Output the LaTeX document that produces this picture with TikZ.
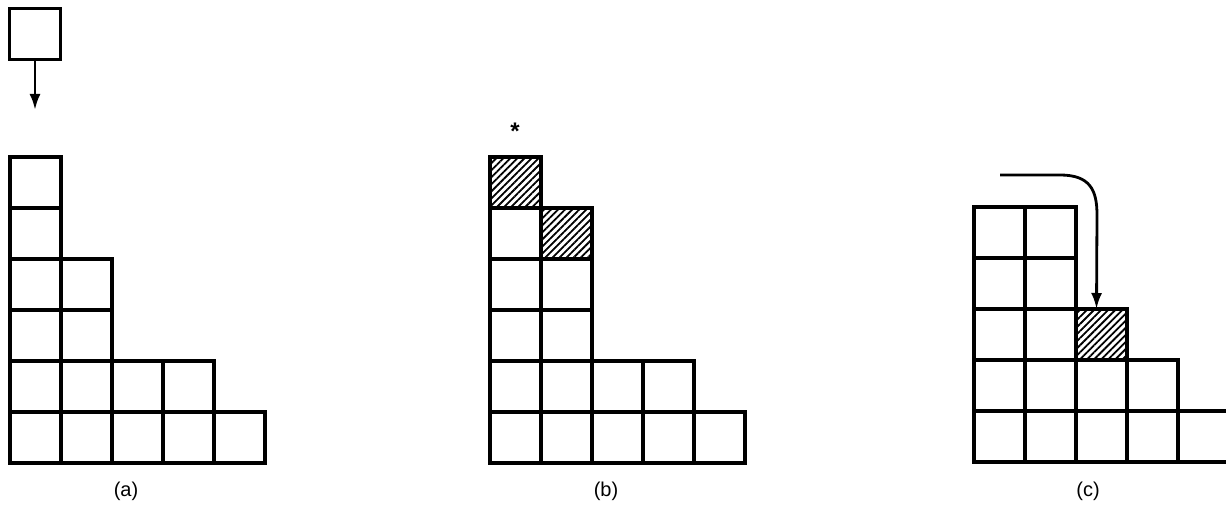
\documentclass[tikz,border=0pt]{standalone}
\usepackage{fontspec}
\setmainfont{Liberation Sans}
\usetikzlibrary{arrows.meta,patterns.meta}
\begin{document}
\begin{tikzpicture}[x=0.5pt,y=-0.5pt,
  cell/.style={draw, rectangle, line width=1.8pt, minimum size=25.5pt, inner sep=0pt, outer sep=0pt},
  hatched/.style={cell, pattern={Lines[angle=45,distance=2.5pt,line width=0.9pt]}},
  arr/.style={line width=1.4pt, -{Latex[length=8pt,width=5.5pt]}},
  lab/.style={font=\fontsize{10}{12}\selectfont, inner sep=0pt}]
\useasboundingbox (0,0) rectangle (1226,506);
\clip (0,0) rectangle (1226,506);
% (a)
\node[cell] (drop) at (35,34) {};
\coordinate (dropend) at (35,110);
\draw[arr] (drop.south) -- (dropend);
\foreach \i/\j in {0/0,0/1,0/2,0/3,0/4,0/5,1/0,1/1,1/2,1/3,2/0,2/1,3/0,3/1,4/0}
  \node[cell] (a-\i-\j) at ({10+51*\i+25.5},{463-51*\j-25.5}) {};
\node[lab] (la) at (126,491) {(a)};
% (b)
\foreach \i/\j in {0/0,0/1,0/2,0/3,0/4,1/0,1/1,1/2,1/3,2/0,2/1,3/0,3/1,4/0}
  \node[cell] (b-\i-\j) at ({490+51*\i+25.5},{463-51*\j-25.5}) {};
\node[hatched] (b-0-5) at ({490+25.5},{463-51*5-25.5}) {};
\node[hatched] (b-1-4) at ({490+51+25.5},{463-51*4-25.5}) {};
\node[lab, font=\fontsize{12}{14}\selectfont\bfseries] (star) at (515,131) {*};
\node[lab] (lb) at (606,491) {(b)};
% (c)
\foreach \i/\j in {0/0,0/1,0/2,0/3,0/4,1/0,1/1,1/2,1/3,1/4,2/0,2/1,3/0,3/1,4/0}
  \node[cell] (c-\i-\j) at ({974+51*\i+25.5},{462-51*\j-25.5}) {};
\node[hatched] (c-2-2) at ({974+51*2+25.5},{462-51*2-25.5}) {};
\coordinate (cstart) at (1000,175);
\coordinate (cend) at ([xshift=-2.5pt]c-2-2.north);
\draw[arr] (cstart) -- (1060,175) .. controls (1090,175) and (1097,190) .. (1097,215) -- (cend);
\node[lab] (lc) at (1088,491) {(c)};
\end{tikzpicture}
\end{document}
